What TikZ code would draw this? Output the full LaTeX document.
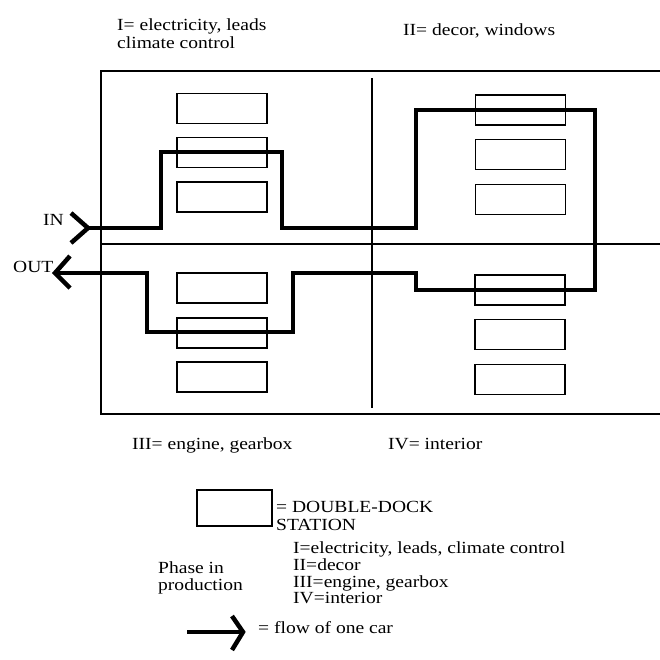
\documentclass[tikz,border=0pt]{standalone}
\usepackage{fontspec}
\setmainfont{Liberation Serif}[FakeStretch=1.15]
\begin{document}
\begin{tikzpicture}[x=1pt,y=-1pt,
  lbl/.style={anchor=base west,inner sep=0pt,font=\fontsize{17}{17}\selectfont},
  frameline/.style={line width=1.4pt},
  station/.style={draw,line width=1.6pt,minimum width=90pt,minimum height=30pt,inner sep=0pt},
  flow/.style={line width=3.6pt,line join=miter},
  chev/.style={line width=4.5pt,line join=miter,line cap=butt}]
\useasboundingbox (0,0) rectangle (660,659);
% labels top
\node[lbl] (t1a) at (117,30) {I= electricity, leads};
\node[lbl] (t1b) at (117,48) {climate control};
\node[lbl] (t2) at (403,35) {II= decor, windows};
% frame
\draw[frameline] (660,71) -- (101,71) -- (101,414) -- (660,414);
\draw[frameline] (101,244) -- (660,244);
\draw[frameline] (372,78) -- (372,408);
% stations upper left
\node[station] (ul1) at (222,108.5) {};
\node[station] (ul2) at (222,152.5) {};
\node[station] (ul3) at (222,197) {};
% upper right
\node[station] (ur1) at (520.5,110) {};
\node[station] (ur2) at (520.5,154.5) {};
\node[station] (ur3) at (520.5,199.5) {};
% lower left
\node[station] (ll1) at (222,288) {};
\node[station] (ll2) at (222,333) {};
\node[station] (ll3) at (222,377) {};
% lower right
\node[station] (lr1) at (520,290) {};
\node[station] (lr2) at (520,334.5) {};
\node[station] (lr3) at (520,379.5) {};
% flow of one car
\coordinate (inpt) at (88,228);
\coordinate (outpt) at (55,273);
\draw[flow] (inpt) -- (161,228) -- (161,152) -- (282,152) -- (282,228) -- (416,228)
  -- (416,110) -- (595,110) -- (595,290) -- (416,290) -- (416,273) -- (293,273)
  -- (293,332) -- (147,332) -- (147,273) -- (outpt);
\draw[chev] (71,213) -- (inpt) -- (71,243);
\draw[chev] (70,256) -- (outpt) -- (70,288);
\node[lbl] (inl) at (43,225) {IN};
\node[lbl] (outl) at (13,272) {OUT};
% bottom labels
\node[lbl] (t3) at (132,449) {III= engine, gearbox};
\node[lbl] (t4) at (388,449) {IV= interior};
% legend
\node[station,minimum width=75pt,minimum height=36pt] (legbox) at (234.5,508) {};
\node[lbl] (lega) at (276,512) {= DOUBLE-DOCK};
\node[lbl] (legb) at (276,530) {STATION};
\node[lbl] (ph1) at (158,573) {Phase in};
\node[lbl] (ph2) at (158,590) {production};
\node[lbl] (p1) at (293,553) {I=electricity, leads, climate control};
\node[lbl] (p2) at (293,570) {II=decor};
\node[lbl] (p3) at (293,587) {III=engine, gearbox};
\node[lbl] (p4) at (293,603) {IV=interior};
\coordinate (arra) at (187,632);
\coordinate (arrb) at (243,632);
\draw[flow] (arra) -- (arrb);
\draw[chev] (232,616) -- (arrb) -- (232,650);
\node[lbl] (flowl) at (258,633) {= flow of one car};
\end{tikzpicture}
\end{document}
